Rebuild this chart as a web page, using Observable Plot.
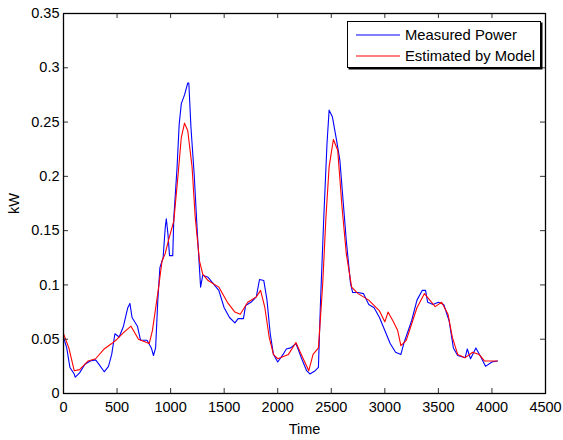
<!DOCTYPE html>
<html>
<head>
<meta charset="utf-8">
<script src="https://cdn.jsdelivr.net/npm/d3@7"></script>
<script src="https://cdn.jsdelivr.net/npm/@observablehq/plot@0.6"></script>
<style>
  html, body { margin: 0; padding: 0; background: #fff; }
  #wrap { position: relative; width: 563px; height: 440px; font-family: "Liberation Sans", Arial, sans-serif; }
  #legend { position: absolute; left: 347px; top: 21px; width: 192px; height: 45px; border: 1.2px solid #000; box-shadow: 1.5px 1.5px 0 #000; background: #fff; font-size: 14.8px; }
  .row { position: absolute; left: 0; height: 20px; display: flex; align-items: center; }
  .row svg { margin-left: 8px; margin-right: 5px; }
</style>
</head>
<body>
<div id="wrap"><div id="chart"></div>
<div id="legend">
  <div class="row" style="top:3px"><svg width="44" height="4"><line x1="0" y1="2" x2="44" y2="2" stroke="#0000ff" stroke-width="1.2"/></svg><span>Measured Power</span></div>
  <div class="row" style="top:24px"><svg width="44" height="4"><line x1="0" y1="2" x2="44" y2="2" stroke="#ff0000" stroke-width="1.2"/></svg><span>Estimated by Model</span></div>
</div>
</div>
<script>
const xTicks = [0, 500, 1000, 1500, 2000, 2500, 3000, 3500, 4000, 4500];
const yTicks = [0, 0.05, 0.1, 0.15, 0.2, 0.25, 0.3, 0.35];

const measuredT = [0,30,60,100,110,150,200,250,300,330,380,420,450,480,520,560,600,620,640,690,720,780,820,840,860,880,900,930,950,960,975,990,1020,1030,1060,1080,1100,1130,1160,1170,1190,1220,1250,1280,1300,1350,1400,1450,1500,1550,1600,1630,1680,1700,1750,1800,1830,1870,1900,1930,1960,2000,2050,2080,2120,2170,2220,2270,2300,2350,2380,2400,2430,2460,2480,2510,2550,2580,2610,2640,2680,2700,2750,2800,2850,2900,2950,3000,3050,3100,3150,3180,3250,3300,3350,3380,3400,3450,3500,3550,3600,3640,3680,3750,3770,3800,3850,3900,3940,4000,4050];
const measuredKW = [0.052,0.042,0.024,0.018,0.015,0.019,0.027,0.030,0.031,0.027,0.020,0.025,0.036,0.055,0.052,0.062,0.079,0.083,0.070,0.062,0.049,0.049,0.042,0.035,0.042,0.085,0.116,0.125,0.153,0.161,0.147,0.127,0.127,0.162,0.208,0.248,0.267,0.275,0.286,0.286,0.245,0.202,0.147,0.098,0.109,0.107,0.101,0.095,0.079,0.070,0.065,0.069,0.069,0.081,0.084,0.089,0.105,0.104,0.086,0.055,0.036,0.029,0.036,0.041,0.042,0.046,0.033,0.021,0.018,0.021,0.024,0.086,0.162,0.230,0.261,0.255,0.233,0.215,0.178,0.141,0.101,0.093,0.093,0.092,0.082,0.079,0.070,0.058,0.046,0.038,0.036,0.047,0.067,0.086,0.095,0.095,0.084,0.082,0.084,0.082,0.067,0.042,0.035,0.033,0.041,0.032,0.042,0.033,0.025,0.029,0.030];

const modelT = [0,50,100,150,230,300,380,450,500,560,630,700,800,830,880,920,950,980,1030,1070,1100,1130,1160,1200,1230,1270,1300,1350,1450,1530,1600,1650,1720,1800,1840,1880,1920,1960,2000,2100,2170,2220,2290,2330,2380,2420,2450,2480,2520,2560,2600,2640,2690,2750,2850,2950,3000,3030,3080,3120,3150,3200,3250,3300,3370,3420,3470,3530,3590,3630,3680,3750,3820,3880,3930,4050];
const modelKW = [0.055,0.042,0.021,0.022,0.030,0.032,0.041,0.046,0.050,0.056,0.062,0.050,0.046,0.058,0.092,0.122,0.129,0.141,0.159,0.202,0.236,0.249,0.242,0.209,0.162,0.122,0.110,0.104,0.098,0.084,0.075,0.073,0.084,0.089,0.095,0.079,0.052,0.036,0.032,0.036,0.047,0.036,0.021,0.036,0.042,0.101,0.162,0.209,0.234,0.224,0.172,0.129,0.098,0.092,0.086,0.076,0.066,0.075,0.066,0.058,0.044,0.049,0.064,0.079,0.092,0.086,0.080,0.084,0.073,0.052,0.036,0.033,0.038,0.036,0.030,0.030];

const measured = measuredT.map((t, i) => ({t, kw: measuredKW[i]}));
const model = modelT.map((t, i) => ({t, kw: modelKW[i]}));

const tickLenX = 47;     // in x data units (~5px)
const tickLenY = 0.0046; // in y data units (~5px)

const chart = Plot.plot({
  width: 563,
  height: 440,
  marginLeft: 63,
  marginRight: 18,
  marginTop: 13,
  marginBottom: 47,
  style: {fontFamily: "Liberation Sans, Arial, sans-serif", fontSize: "14.5px", color: "#000", background: "#fff"},
  x: {domain: [0, 4500]},
  y: {domain: [0, 0.35]},
  marks: [
    Plot.line(measured, {x: "t", y: "kw", stroke: "#0000ff", strokeWidth: 1.1}),
    Plot.line(model, {x: "t", y: "kw", stroke: "#ff0000", strokeWidth: 1.1}),
    Plot.ruleX(xTicks.slice(1, -1), {y1: 0, y2: tickLenY, stroke: "#333"}),
    Plot.ruleX(xTicks.slice(1, -1), {y1: 0.35 - tickLenY, y2: 0.35, stroke: "#333"}),
    Plot.ruleY(yTicks.slice(1, -1), {x1: 0, x2: tickLenX, stroke: "#333"}),
    Plot.ruleY(yTicks.slice(1, -1), {x1: 4500 - tickLenX, x2: 4500, stroke: "#333"}),
    Plot.frame({stroke: "#000", strokeWidth: 1.3}),
    Plot.axisX({ticks: xTicks, tickSize: 0, tickPadding: 8, tickFormat: d => String(d), label: "Time", labelAnchor: "center", labelOffset: 40, labelArrow: "none"}),
    Plot.axisY({ticks: yTicks, tickSize: 0, tickPadding: 4, tickFormat: d => String(d), label: "kW", labelAnchor: "center", labelOffset: 55, labelArrow: "none"})
  ]
});
document.getElementById("chart").appendChild(chart);
</script>
</body>
</html>
